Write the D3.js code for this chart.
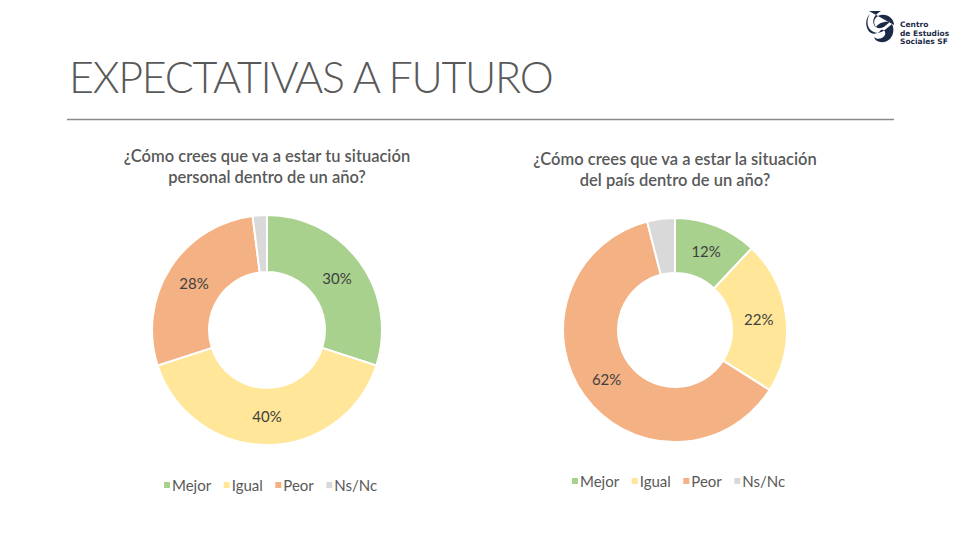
<!DOCTYPE html>
<html><head><meta charset="utf-8">
<script src="https://cdn.jsdelivr.net/npm/d3@7"></script>
<style>body{margin:0;background:#fff}svg{display:block}</style>
</head><body>
<svg id="c" width="961" height="541"></svg>
<script>
const categories = ["Mejor","Igual","Peor","Ns/Nc"];
const colors = ["#A9D18E","#FFE699","#F4B183","#D9D9D9"];
const personalValues = [30,40,28,2];
const countryValues = [12,22,62,4];
const chartTitles = [
  ["¿Cómo crees que va a estar tu situación","personal dentro de un año?"],
  ["¿Cómo crees que va a estar la situación","del país dentro de un año?"]
];
const pageTitle = "EXPECTATIVAS A FUTURO";

const svg = d3.select("#c");
// title
svg.append("text").attr("x",69).attr("y",93).text(pageTitle)
  .attr("font-family","Lato, 'Open Sans', sans-serif").attr("font-weight",300)
  .attr("font-size",43).attr("fill","#595959").attr("letter-spacing",-1.3);
svg.append("line").attr("x1",67).attr("x2",894).attr("y1",119.5).attr("y2",119.5)
  .attr("stroke","#8c8c8c").attr("stroke-width",1.5);

// logo
const lg = svg.append("g").attr("transform","translate(866,10)");
lg.append("path").attr("d","M3,1 L15,1 C8,5 6,10 8,15 C10,19 16,19 19,16 L24,12 C17,11 12,14 10,17 C6,12 9,6 15,5 C22,4 28,9 28,15 Z")
  .attr("fill","#1b2a47");
lg.append("path").attr("d","M4,4 C0,10 1,18 6,21 C10,24 16,23 20,19 L26,14 C29,20 27,28 21,31 C15,34 9,31 8,27 C11,30 17,29 19,25 C20,22 18,19 15,20 C11,25 5,25 2,20 C-1,14 0,8 4,4 Z")
  .attr("fill","#1b2a47");
const lt = lg.append("text").attr("font-family","'DejaVu Sans', sans-serif").attr("font-weight","bold")
  .attr("font-size",7.5).attr("fill","#1b2a47");
["Centro","de Estudios","Sociales SF"].forEach((s,i)=>lt.append("tspan").attr("x",34).attr("y",17+i*8.5).text(s));

const pie = d3.pie().sort(null).value(d=>d).startAngle(0).endAngle(2*Math.PI);

function donut(values, cx, cy, rOut, rIn, title, titleY, legendX, legendY){
  const g = svg.append("g").attr("transform",`translate(${cx},${cy})`);
  const arc = d3.arc().innerRadius(rIn).outerRadius(rOut);
  const lab = d3.arc().innerRadius((rIn+rOut)/2).outerRadius((rIn+rOut)/2);
  const arcs = pie(values);
  g.selectAll("path").data(arcs).join("path").attr("d",arc)
    .attr("fill",(d,i)=>colors[i]).attr("stroke","#fff").attr("stroke-width",2);
  g.selectAll("text").data(arcs.filter(d=>d.data>=10)).join("text")
    .attr("transform",d=>`translate(${lab.centroid(d)})`)
    .attr("text-anchor","middle").attr("dy","0.35em")
    .attr("font-family","Lato, sans-serif").attr("font-size",15).attr("fill","#404040")
    .text(d=>d.data+"%");
  const t = svg.append("text").attr("text-anchor","middle")
    .attr("font-family","Lato, sans-serif").attr("font-weight",600).attr("font-size",16.5).attr("fill","#595959");
  title.forEach((s,i)=>t.append("tspan").attr("x",cx).attr("y",titleY+i*21).text(s));
  // legend
  const lgd = svg.append("g").attr("transform",`translate(${legendX},${legendY})`);
  let x = 0;
  categories.forEach((c,i)=>{
    lgd.append("rect").attr("x",x).attr("y",-4).attr("width",6).attr("height",6).attr("fill",colors[i]);
    const tx = lgd.append("text").attr("x",x+8).attr("y",0).attr("dy","0.35em")
      .attr("font-family","Lato, sans-serif").attr("font-size",15).attr("fill","#595959").text(c);
    x += 8 + tx.node().getComputedTextLength() + 12.5;
  });
}
donut(personalValues, 267, 330, 115, 58, chartTitles[0], 162, 164, 486);
donut(countryValues, 675, 330, 112, 57, chartTitles[1], 165, 572, 482);
</script>
</body></html>
